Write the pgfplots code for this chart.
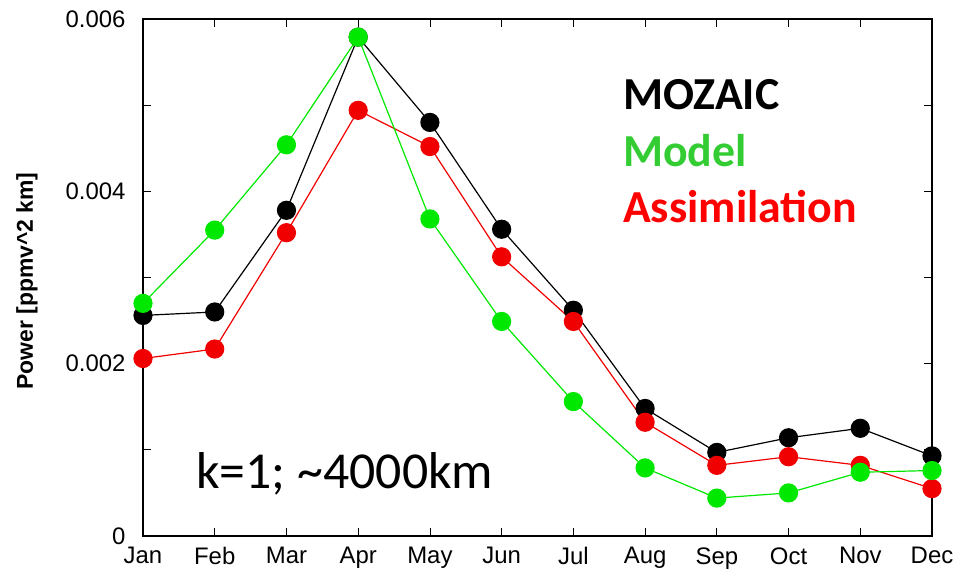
\documentclass[border=0pt]{standalone}
\usepackage{pgfplots}
\pgfplotsset{compat=1.18}
\usepackage{fontspec}
\setmainfont{Liberation Sans}
\newfontfamily\calibri{Carlito}
\definecolor{lgreen}{RGB}{0,232,0}
\definecolor{lred}{RGB}{240,0,0}
\definecolor{tgreen}{RGB}{51,204,51}
\definecolor{tred}{RGB}{255,0,0}
\begin{document}
\begin{tikzpicture}
\useasboundingbox (0,0) rectangle (956bp,570bp);
\begin{axis}[
  at={(143bp,34bp)}, anchor=south west,
  scale only axis, width=789bp, height=517bp,
  xmin=0, xmax=11, ymin=0, ymax=0.006,
  xtick={0,1,2,3,4,5,6,7,8,9,10,11},
  xticklabels={Jan,Feb,Mar,Apr,May,Jun,Jul,Aug,Sep,Oct,Nov,Dec},
  ytick={0,0.002,0.004,0.006},
  yticklabels={0,0.002,0.004,0.006},
  minor ytick={0.001,0.003,0.005},
  scaled y ticks=false,
  tick align=inside,
  major tick length=8bp, minor tick length=8bp,
  tick style={black, line width=0.8bp},
  axis line style={line width=1.2bp},
  tick label style={font=\fontsize{24}{28}\selectfont},
  xticklabel style={yshift=-8bp},
  yticklabel style={xshift=-14bp},
  /pgf/number format/assume math mode=true,
  ylabel={\bfseries Power [ppmv\^{}2 km]},
  every axis y label/.style={at={(axis description cs:-0.147,0.493)}, rotate=90, anchor=center, font=\fontsize{23}{27}\selectfont},
  clip=false,
]
\addplot[black, line width=1.2bp, mark=*, mark size=9bp] coordinates {
(0,0.00256) (1,0.00260) (2,0.00378) (3,0.00579) (4,0.00480) (5,0.00356)
(6,0.00262) (7,0.00148) (8,0.00097) (9,0.00114) (10,0.00125) (11,0.00093)};
\addplot[lred, line width=1.2bp, mark=*, mark size=9bp] coordinates {
(0,0.00206) (1,0.00217) (2,0.00352) (3,0.00494) (4,0.00452) (5,0.00324)
(6,0.00249) (7,0.00132) (8,0.00082) (9,0.00092) (10,0.00082) (11,0.00055)};
\addplot[lgreen, line width=1.2bp, mark=*, mark size=9bp] coordinates {
(0,0.00270) (1,0.00355) (2,0.00454) (3,0.00579) (4,0.00368) (5,0.00249)
(6,0.00156) (7,0.00079) (8,0.00044) (9,0.00050) (10,0.00074) (11,0.00076)};
\end{axis}
\node[anchor=base west, inner sep=0, font=\calibri\bfseries\fontsize{46}{50}\selectfont, text=black] at (623bp,460bp) {MOZAIC};
\node[anchor=base west, inner sep=0, font=\calibri\bfseries\fontsize{46}{50}\selectfont, text=tgreen] at (623bp,403bp) {Model};
\node[anchor=base west, inner sep=0, font=\calibri\bfseries\fontsize{46}{50}\selectfont, text=tred] at (623bp,347bp) {Assimilation};
\node[anchor=base west, inner sep=0, font=\calibri\fontsize{52}{56}\selectfont] at (196bp,81bp) {k=1; \textasciitilde 4000km};
\end{tikzpicture}
\end{document}
